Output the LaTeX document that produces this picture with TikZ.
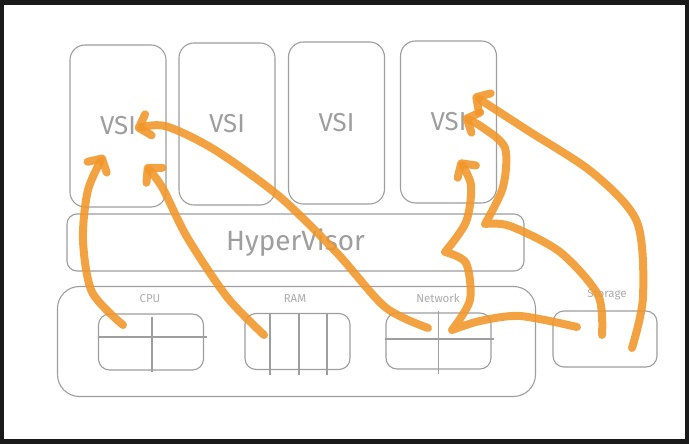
\documentclass[tikz,border=0pt]{standalone}
\usepackage{fontspec}
\setmainfont{Fira Sans}
\usepackage{tikz}
\usetikzlibrary{arrows.meta, calc}
\definecolor{sketchgrey}{RGB}{158, 158, 158}
\definecolor{labelgrey}{RGB}{172, 172, 172}
\definecolor{floworange}{RGB}{242, 150, 40}
\definecolor{framedark}{RGB}{26, 26, 26}

\begin{document}
\begin{tikzpicture}[x=1bp, y=-1bp,
        box/.style={draw=sketchgrey, line width=1.1bp, inner sep=0pt, text=sketchgrey},
        vsibox/.style={box, rounded corners=15bp, minimum width=96bp, minimum height=162bp, font=\fontsize{26}{30}\selectfont},
        cellbox/.style={box, rounded corners=11bp, minimum width=105bp, minimum height=56bp},
        celllabel/.style={text=labelgrey, inner sep=0pt, font=\fontsize{11.5}{13}\selectfont},
        cellline/.style={draw=sketchgrey, line width=1.1bp},
        feed/.style={draw=floworange, draw opacity=0.88, line width=8bp, line cap=round, line join=round},
        flow/.style={feed, -{Straight Barb[length=10bp, width=22bp, round]}}]

        % Frame
        \fill[framedark] (0,0) rectangle (689,444);
        \fill[white] (4,5) rectangle (685,439);

        % Virtual server instances
        \node[vsibox] (vsi1) at (118,126) {VSI};
        \node[vsibox] (vsi2) at (227,124) {VSI};
        \node[vsibox] (vsi3) at (336.5,123) {VSI};
        \node[vsibox] (vsi4) at (448.5,122) {VSI};

        % Hypervisor layer
        \node[box, rounded corners=10bp, minimum width=457bp, minimum height=57bp,
              font=\fontsize{28}{32}\selectfont] (hyper) at (295.5,242.5) {HyperVisor};

        % Physical host and its resources
        \node[box, rounded corners=22bp, minimum width=478bp, minimum height=110bp] (host) at (296.5,341.5) {};
        \node[cellbox] (cpu) at (151,342) {};
        \node[cellbox] (ram) at (297.5,341.5) {};
        \node[cellbox] (net) at (438.5,341) {};
        \node[cellbox, minimum width=104bp] (stor) at (605,339) {};
        \node[celllabel] (cpu-label) at (150,299) {CPU};
        \node[celllabel] (ram-label) at (295,299) {RAM};
        \node[celllabel] (net-label) at (438,298) {Network};
        \node[celllabel] (stor-label) at (607,295) {Storage};

        % Cell dividers
        \draw[cellline] ($(cpu.west)+(0,-5)$) -- ++(109,0);
        \draw[cellline] ($(cpu.north)+(1,4)$) -- ++(0,55);
        \foreach \dx in {-27.5, 1.5, 29.5}
            \draw[cellline] ($(ram.north)+(\dx,0)$) -- ++(0,62);
        \draw[cellline] ($(net.west)+(0,-2)$) -- ++(109,0);
        \draw[cellline] ($(net.north)+(0,-1)$) -- ++(0,63);

        % Flow ends
        \coordinate (cpu-out) at (123,325);
        \coordinate (ram-out) at (264,335);
        \coordinate (net-out) at (428,328);
        \coordinate (net-hub) at (452,330);
        \coordinate (stor-out1) at (577,327);
        \coordinate (stor-out2) at (602,335);
        \coordinate (stor-out3) at (632,348);
        \coordinate (vsi1-a) at (104,155);
        \coordinate (vsi1-b) at (145,165);
        \coordinate (vsi1-c) at (135,129);
        \coordinate (vsi4-a) at (459,160);
        \coordinate (vsi4-b) at (463,117);
        \coordinate (vsi4-c) at (473,95);

        % Arrows to VSI 1
        \draw[flow] plot[smooth] coordinates {(cpu-out) (92,292) (83,240) (88,190) (vsi1-a)};
        \draw[flow] plot[smooth] coordinates {(ram-out) (227,297) (187,237) (162,187) (vsi1-b)};
        \draw[flow] plot[smooth] coordinates {(net-out) (385,307) (337,253) (280,197) (215,150) (165,126) (vsi1-c)};

        % Arrows to VSI 4
        \draw[flow] plot[smooth] coordinates {(stor-out1) (520,316) (480,321) (net-hub)}
            plot[smooth] coordinates {(net-hub) (470,300) (466,263) (445,252)}
            plot[smooth] coordinates {(445,252) (466,222) (471,185) (vsi4-a)};
        \draw[flow] plot[smooth] coordinates {(stor-out2) (598,295) (560,252) (510,226) (485,224)}
            plot[smooth] coordinates {(485,224) (503,187) (505,148) (482,127) (vsi4-b)};
        \draw[flow] plot[smooth] coordinates {(stor-out3) (643,297) (637,222) (593,173) (527,130) (vsi4-c)};
\end{tikzpicture}
\end{document}
